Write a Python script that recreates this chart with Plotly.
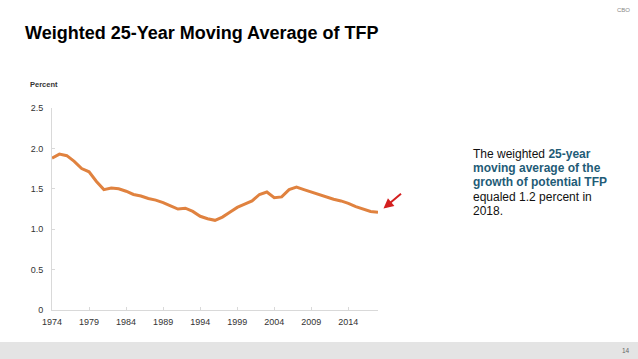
import plotly.graph_objects as go

years = list(range(1974, 2019))
tfp_avg = [1.88, 1.93, 1.91, 1.84, 1.75, 1.71, 1.59, 1.49, 1.51, 1.50,
           1.47, 1.43, 1.41, 1.38, 1.36, 1.33, 1.29, 1.25, 1.26, 1.22,
           1.16, 1.13, 1.11, 1.15, 1.21, 1.27, 1.31, 1.35, 1.43, 1.46,
           1.39, 1.40, 1.49, 1.52, 1.49, 1.46, 1.43, 1.40, 1.37, 1.35,
           1.32, 1.28, 1.25, 1.22, 1.21]
x_ticks = [1974, 1979, 1984, 1989, 1994, 1999, 2004, 2009, 2014]
y_ticks = [0, 0.5, 1.0, 1.5, 2.0, 2.5]
y_tick_text = ["0", "0.5", "1.0", "1.5", "2.0", "2.5"]

W, H = 638, 359
L, R, T, B = 52, 260, 108, 49
PW, PH = W - L - R, H - T - B


def px(x):
    return (x - L) / PW


def py(y):
    return (H - B - y) / PH


FONT = "Liberation Sans, Arial, sans-serif"
TEAL = "#1f5c77"

fig = go.Figure()
fig.add_trace(go.Scatter(x=years, y=tfp_avg, mode="lines",
                         line=dict(color="#e0823f", width=3),
                         hoverinfo="skip", showlegend=False))

fig.update_layout(
    width=W, height=H,
    margin=dict(l=L, r=R, t=T, b=B),
    paper_bgcolor="white", plot_bgcolor="white",
    font=dict(family=FONT, color="#333333"),
    xaxis=dict(range=[1974, 2018], tickvals=x_ticks, showgrid=False,
               zeroline=False, showline=True, linecolor="#d9d9d9", linewidth=1,
               ticks="inside", ticklen=3, tickcolor="#d9d9d9",
               ticklabelstandoff=3,
               tickfont=dict(size=9, color="#333333")),
    yaxis=dict(range=[0, 2.5], tickvals=y_ticks, ticktext=y_tick_text,
               showgrid=False, zeroline=False, showline=True,
               linecolor="#d9d9d9", linewidth=1, ticks="inside", ticklen=3,
               tickcolor="#d9d9d9", ticklabelstandoff=6,
               tickfont=dict(size=9, color="#333333")),
)

shapes = [dict(type="rect", xref="paper", yref="paper",
               x0=px(0), x1=px(W), y0=py(342), y1=py(H),
               fillcolor="#e4e4e4", line=dict(width=0), layer="below")]
fig.update_layout(shapes=shapes)

ann = []
ann.append(dict(text="<b>Weighted 25-Year Moving Average of TFP</b>",
                xref="paper", yref="paper", x=px(23), y=py(33),
                xanchor="left", yanchor="middle", showarrow=False,
                font=dict(size=18, color="black", family=FONT)))
ann.append(dict(text="CBO", xref="paper", yref="paper", x=px(632), y=py(10),
                xanchor="right", yanchor="middle", showarrow=False,
                font=dict(size=6, color="#888888", family=FONT)))
ann.append(dict(text="14", xref="paper", yref="paper", x=px(632), y=py(350),
                xanchor="right", yanchor="middle", showarrow=False,
                font=dict(size=6.5, color="#666666", family=FONT)))
ann.append(dict(text="<b>Percent</b>", xref="paper", yref="paper",
                x=px(28), y=py(85), xanchor="left", yanchor="middle",
                showarrow=False, font=dict(size=7.5, color="#333333", family=FONT)))

lines = [
    "The weighted <b><span style='color:%s'>25-year</span></b>" % TEAL,
    "<b><span style='color:%s'>moving average of the</span></b>" % TEAL,
    "<b><span style='color:%s'>growth of potential TFP</span></b>" % TEAL,
    "equaled 1.2 percent in",
    "2018.",
]
for i, t in enumerate(lines):
    ann.append(dict(text=t, xref="paper", yref="paper", x=px(471),
                    y=py(154 + 14.2 * i), xanchor="left", yanchor="middle",
                    showarrow=False, font=dict(size=12, color="#111111", family=FONT)))

ann.append(dict(text="", xref="paper", yref="paper", x=px(383.5), y=py(208.5),
                ax=19, ay=-16, showarrow=True, arrowhead=2, arrowsize=1,
                arrowwidth=2, arrowcolor="#d42020"))
fig.update_layout(annotations=ann)

fig.write_html("out.html", config={"displayModeBar": False},
               post_script="document.body.style.margin='0';document.body.style.overflow='hidden';")
